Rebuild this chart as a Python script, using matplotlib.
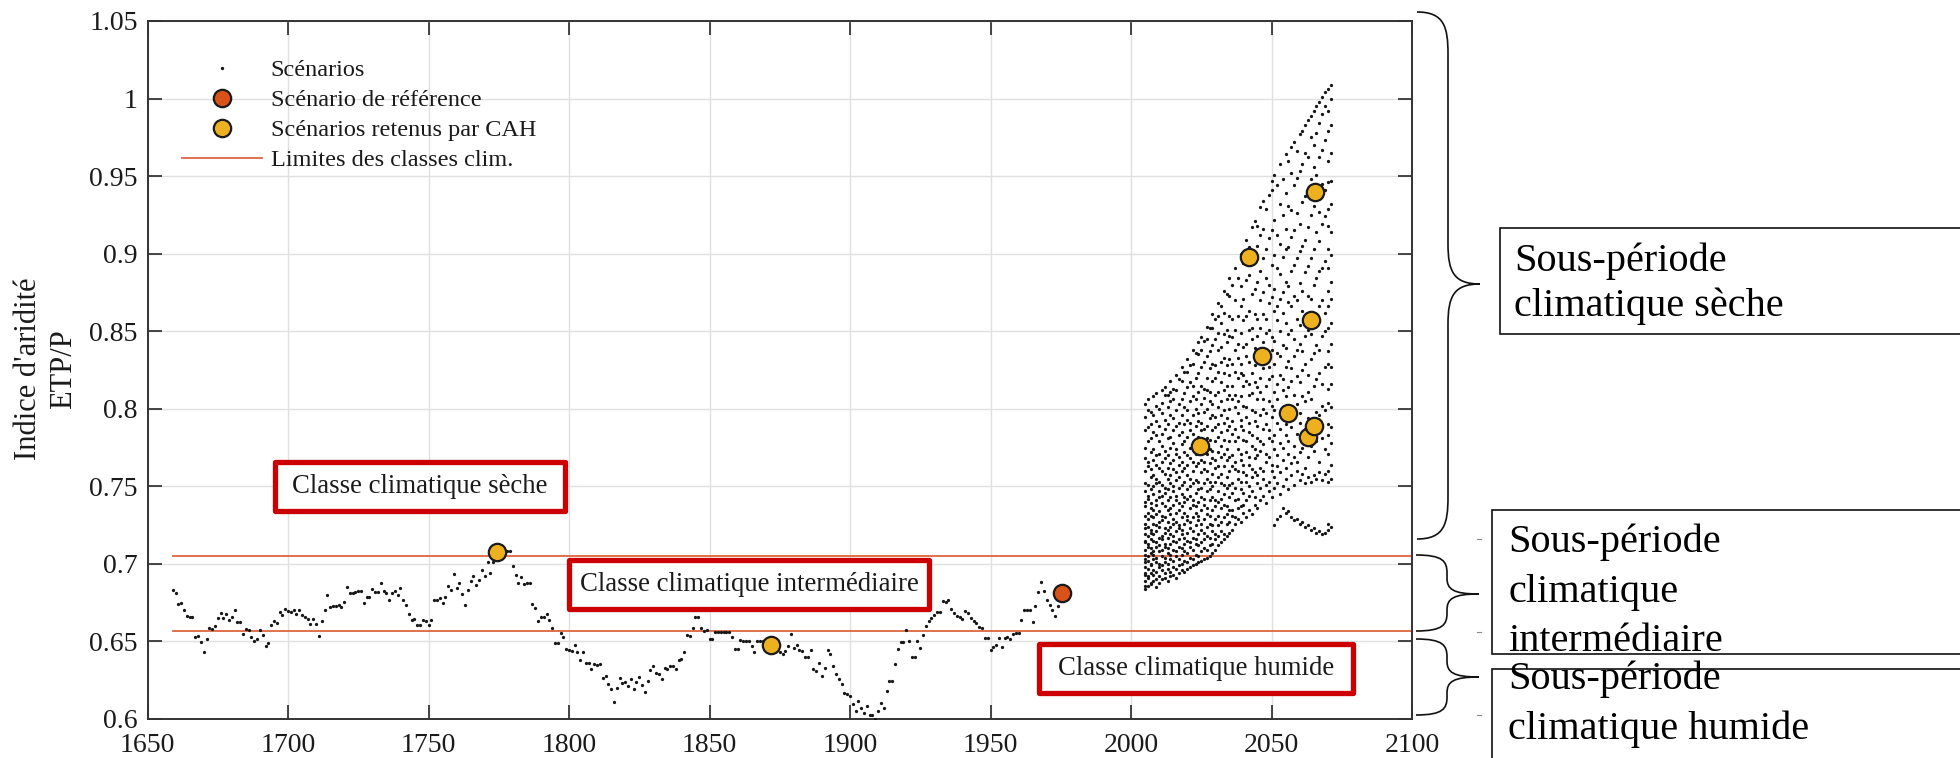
import matplotlib
matplotlib.use("Agg")
import numpy as np
import matplotlib.pyplot as plt
from matplotlib.lines import Line2D
from matplotlib.patches import Rectangle, PathPatch
from matplotlib.path import Path

plt.rcParams['font.family'] = ['Liberation Serif', 'DejaVu Serif']

# ---------------- data ----------------
HIST_START = 1659
HIST_VALUES = [
    0.683,
    0.681, 0.674, 0.6745, 0.6705, 0.6666, 0.666, 0.666, 0.653, 0.6537, 0.6494,
    0.6433, 0.6515, 0.6588, 0.658, 0.6597, 0.665, 0.6683, 0.6649, 0.668, 0.6638,
    0.6655, 0.6703, 0.6623, 0.6623, 0.6547, 0.658, 0.6575, 0.653, 0.6504, 0.6515,
    0.6575, 0.654, 0.647, 0.649, 0.6605, 0.6634, 0.662, 0.6687, 0.667, 0.6709,
    0.6694, 0.669, 0.670, 0.668, 0.670, 0.667, 0.666, 0.6644, 0.661, 0.6644,
    0.661, 0.6537, 0.6634, 0.670, 0.680, 0.672, 0.6727, 0.673, 0.6737, 0.672,
    0.6756, 0.685, 0.6813, 0.681, 0.6817, 0.6823, 0.6828, 0.6748, 0.6784, 0.6784,
    0.6838, 0.682, 0.682, 0.688, 0.6823, 0.681, 0.677, 0.681, 0.6823, 0.680,
    0.6845, 0.677, 0.6735, 0.668, 0.664, 0.6644, 0.6608, 0.6608, 0.6638, 0.663,
    0.6608, 0.6638, 0.677, 0.677, 0.678, 0.6748, 0.6785, 0.686, 0.6834, 0.6935,
    0.6843, 0.6877, 0.6806, 0.6735, 0.6834, 0.6888, 0.6925, 0.6866, 0.6899, 0.6961,
    0.6925, 0.7011, 0.6942, 0.7011, 0.7045, 0.7075, 0.708, 0.7085, 0.708, 0.708,
    0.6985, 0.693, 0.6877, 0.6914, 0.687, 0.6875, 0.688, 0.674, 0.6713, 0.6634,
    0.666, 0.666, 0.668, 0.6638, 0.6584, 0.649, 0.649, 0.6554, 0.6526, 0.645,
    0.6446, 0.644, 0.648, 0.6433, 0.638, 0.643, 0.6364, 0.6364, 0.632, 0.6353,
    0.6347, 0.6353, 0.6263, 0.6274, 0.6228, 0.6192, 0.611, 0.620, 0.6263, 0.6235,
    0.624, 0.6213, 0.6256, 0.6192, 0.624, 0.6272, 0.622, 0.6175, 0.6246, 0.6313,
    0.6343, 0.6295, 0.6289, 0.6256, 0.6332, 0.632, 0.6343, 0.634, 0.632, 0.638,
    0.639, 0.643, 0.654, 0.6537, 0.6584, 0.666, 0.666, 0.6584, 0.657, 0.6575,
    0.6515, 0.6515, 0.6558, 0.6562, 0.6558, 0.6558, 0.6562, 0.6558, 0.6526, 0.645,
    0.645, 0.651, 0.6504, 0.650, 0.650, 0.6472, 0.6433, 0.6504, 0.650, 0.6504,
    0.649, 0.648, 0.648, 0.647, 0.6455, 0.6433, 0.642, 0.644, 0.6468, 0.6547,
    0.6455, 0.6476, 0.6444, 0.644, 0.6397, 0.6397, 0.6444, 0.632, 0.631, 0.6364,
    0.6278, 0.6328, 0.6444, 0.642, 0.6343, 0.6289, 0.626, 0.6224, 0.6166, 0.616,
    0.6149, 0.6095, 0.6052, 0.6116, 0.6073, 0.6041, 0.6084, 0.6024, 0.6024, 0.6002,
    0.6052, 0.6106, 0.6073, 0.6181, 0.6246, 0.6246, 0.6353, 0.645, 0.6494, 0.6498,
    0.6575, 0.6504, 0.6397, 0.6397, 0.6504, 0.646, 0.654, 0.6601, 0.663, 0.6649,
    0.667, 0.669, 0.669, 0.676, 0.6755, 0.6765, 0.6709, 0.6683, 0.6666, 0.6657,
    0.6644, 0.6694, 0.6683, 0.665, 0.663, 0.6618, 0.659, 0.6584, 0.6522, 0.6522,
    0.6446, 0.6461, 0.6478, 0.6522, 0.6461, 0.6522, 0.6528, 0.6515, 0.655, 0.6554,
    0.6554, 0.664, 0.670, 0.6705, 0.670, 0.6623, 0.6726, 0.6821, 0.6881, 0.6823,
    0.6765, 0.6735, 0.6705, 0.6666, 0.6726,
]

# future scenario cloud, values in thousandths, per year
FUTURE = {
    2005: [684, 686, 689, 693, 694, 698, 701, 703, 706, 709, 714, 715, 719, 723, 726, 731, 737, 740, 747, 752, 760, 768, 775, 786, 795, 803],
    2006: [686, 691, 692, 697, 702, 705, 711, 713, 718, 724, 729, 733, 742, 744, 751, 763, 766, 779, 788, 799, 806],
    2007: [687, 688, 694, 699, 700, 707, 710, 716, 720, 722, 731, 736, 739, 748, 756, 761, 772, 781, 790, 798],
    2008: [689, 693, 696, 703, 706, 708, 715, 719, 726, 730, 735, 745, 750, 757, 767, 774, 785, 796, 808],
    2009: [685, 690, 695, 701, 704, 711, 714, 721, 725, 732, 738, 741, 752, 755, 764, 770, 783, 792, 802, 810],
    2010: [688, 692, 698, 700, 708, 712, 717, 724, 727, 734, 743, 747, 753, 762, 771, 779, 789, 800],
    2011: [690, 696, 699, 705, 709, 716, 718, 728, 731, 739, 744, 751, 760, 766, 776, 784, 797, 804, 812],
    2012: [691, 694, 701, 704, 711, 713, 720, 723, 730, 737, 746, 749, 758, 768, 773, 787, 793, 809, 814],
    2013: [689, 697, 700, 707, 710, 717, 722, 727, 735, 741, 748, 755, 762, 770, 781, 790, 801, 809],
    2014: [692, 695, 703, 706, 713, 719, 724, 732, 736, 743, 752, 757, 765, 775, 782, 796, 805, 811, 818],
    2015: [693, 698, 702, 709, 715, 718, 726, 729, 738, 747, 750, 761, 767, 778, 786, 794, 806, 813],
    2016: [691, 697, 705, 708, 714, 721, 727, 733, 741, 744, 754, 759, 771, 774, 789, 799, 812, 822],
    2017: [694, 699, 703, 711, 716, 723, 725, 735, 739, 749, 756, 764, 769, 783, 791, 803, 819],
    2018: [696, 700, 706, 710, 719, 722, 730, 737, 745, 751, 760, 766, 777, 785, 796, 806, 818, 827],
    2019: [695, 702, 708, 713, 717, 726, 733, 740, 743, 753, 762, 772, 779, 790, 801, 810, 824],
    2020: [697, 701, 707, 715, 720, 728, 731, 742, 748, 757, 764, 770, 782, 793, 799, 814, 824, 832],
    2021: [698, 704, 711, 714, 723, 727, 736, 744, 750, 755, 768, 775, 786, 791, 805, 817, 828],
    2022: [699, 703, 709, 717, 721, 730, 738, 741, 752, 760, 766, 778, 784, 796, 808, 815, 829, 838],
    2023: [700, 706, 713, 716, 725, 733, 737, 746, 754, 763, 771, 777, 789, 800, 806, 820, 836],
    2024: [701, 705, 712, 719, 728, 731, 740, 748, 753, 765, 773, 782, 792, 797, 811, 823, 835, 843],
    2025: [702, 708, 714, 722, 726, 735, 743, 749, 759, 767, 774, 786, 791, 803, 815, 827, 838, 846],
    2026: [703, 710, 716, 720, 729, 738, 742, 752, 761, 766, 779, 787, 798, 807, 813, 830, 844],
    2027: [704, 709, 718, 724, 732, 736, 747, 755, 760, 771, 781, 789, 800, 812, 820, 834, 845, 853],
    2028: [705, 712, 717, 726, 731, 741, 748, 753, 765, 774, 780, 794, 805, 811, 826, 837, 852],
    2029: [707, 713, 721, 725, 735, 743, 750, 758, 768, 773, 786, 796, 803, 818, 829, 841, 852, 861],
    2030: [709, 716, 719, 729, 737, 741, 753, 762, 767, 779, 788, 795, 809, 820, 828, 845, 858],
    2031: [712, 718, 725, 731, 740, 747, 756, 763, 772, 782, 790, 801, 811, 824, 838, 849, 860, 868],
    2032: [714, 721, 727, 736, 742, 752, 758, 769, 776, 785, 796, 805, 817, 830, 840, 855, 866],
    2033: [716, 719, 730, 738, 745, 751, 763, 771, 780, 791, 799, 812, 823, 833, 848, 862, 876],
    2034: [718, 726, 732, 737, 749, 756, 767, 774, 786, 794, 806, 815, 828, 843, 851, 874],
    2035: [720, 727, 735, 743, 751, 760, 769, 779, 789, 800, 809, 822, 832, 847, 860, 873, 884],
    2036: [722, 731, 735, 746, 752, 763, 770, 784, 792, 806, 815, 829, 846, 858, 880],
    2037: [726, 730, 741, 749, 761, 766, 779, 787, 801, 809, 824, 838, 851, 870, 891],
    2038: [729, 736, 742, 755, 760, 774, 782, 797, 805, 820, 833, 842, 860, 884],
    2039: [727, 737, 748, 753, 767, 771, 789, 793, 808, 823, 829, 849, 866, 879, 900],
    2040: [733, 738, 746, 759, 764, 780, 786, 802, 815, 822, 840, 857, 871, 894],
    2041: [730, 741, 753, 757, 772, 779, 795, 801, 818, 834, 842, 860, 883, 909],
    2042: [735, 744, 750, 764, 769, 785, 791, 809, 816, 830, 851, 863, 886, 904],
    2043: [732, 747, 756, 761, 776, 783, 799, 810, 823, 845, 852, 874, 896, 917],
    2044: [738, 743, 759, 768, 774, 792, 798, 817, 828, 839, 861, 877, 899, 921],
    2045: [736, 752, 757, 770, 781, 789, 806, 814, 835, 847, 858, 882, 905, 918],
    2046: [741, 749, 762, 773, 779, 796, 811, 820, 838, 852, 870, 889, 912, 930],
    2047: [744, 755, 760, 777, 787, 800, 806, 826, 843, 861, 875, 897, 916, 934],
    2048: [739, 751, 766, 771, 790, 797, 815, 832, 849, 858, 884, 903, 929],
    2049: [747, 753, 769, 781, 786, 805, 819, 827, 851, 868, 880, 910, 938],
    2050: [743, 760, 764, 779, 795, 802, 821, 838, 846, 872, 893, 915, 941, 947],
    2051: [725, 749, 756, 774, 783, 799, 811, 829, 844, 863, 877, 899, 922, 951],
    2052: [729, 752, 763, 770, 791, 806, 816, 836, 857, 866, 891, 912, 944],
    2053: [731, 745, 759, 778, 787, 797, 822, 834, 850, 871, 887, 906, 932, 958],
    2054: [736, 750, 767, 775, 794, 812, 819, 841, 862, 875, 898, 925, 948],
    2055: [733, 755, 762, 783, 790, 808, 827, 839, 855, 882, 903, 916, 939, 964],
    2056: [734, 748, 771, 779, 801, 814, 831, 848, 869, 879, 904, 931, 960],
    2057: [730, 757, 765, 788, 796, 818, 826, 851, 866, 889, 911, 928, 952, 969],
    2058: [728, 751, 769, 776, 799, 809, 834, 845, 873, 893, 915, 944, 972],
    2059: [729, 760, 766, 784, 803, 821, 838, 858, 870, 897, 926, 949, 966],
    2060: [726, 754, 772, 791, 797, 817, 842, 854, 881, 902, 919, 953, 977],
    2061: [727, 758, 775, 783, 808, 825, 837, 863, 876, 905, 933, 958, 979],
    2062: [724, 752, 762, 787, 805, 829, 847, 859, 888, 909, 937, 965, 983],
    2063: [725, 756, 769, 794, 811, 822, 851, 873, 892, 917, 940, 962, 986],
    2064: [722, 753, 776, 792, 806, 832, 848, 871, 897, 925, 948, 975, 989],
    2065: [723, 757, 773, 789, 815, 836, 859, 880, 903, 931, 956, 970, 992],
    2066: [720, 755, 779, 798, 819, 841, 855, 884, 914, 935, 951, 978, 995],
    2067: [721, 759, 766, 796, 823, 838, 866, 889, 908, 927, 962, 984, 998],
    2068: [719, 754, 781, 802, 816, 847, 870, 891, 919, 945, 967, 990, 1001],
    2069: [720, 758, 774, 799, 827, 850, 862, 895, 924, 941, 973, 995, 1004],
    2070: [722, 726, 753, 760, 771, 783, 790, 804, 813, 829, 837, 852, 866, 876, 891, 903, 918, 929, 946, 960, 979, 992, 1006],
    2071: [724, 755, 764, 778, 788, 801, 816, 827, 842, 855, 871, 882, 899, 914, 932, 947, 965, 983, 1000, 1009],
}

REF_YEAR = [1975.5]
REF_VALUE = [0.681]
CAH_YEARS = [1774.5, 1872, 2024.5, 2042, 2046.5, 2056, 2063, 2065, 2064, 2065.5]
CAH_VALUES = [0.7075, 0.648, 0.776, 0.898, 0.834, 0.797, 0.782, 0.789, 0.857, 0.940]
CLASS_LIMITS = [0.657, 0.705]
LIMIT_SPAN = [1659, 2100]

X_TICKS = [1650, 1700, 1750, 1800, 1850, 1900, 1950, 2000, 2050, 2100]
Y_TICKS = [0.6, 0.65, 0.7, 0.75, 0.8, 0.85, 0.9, 0.95, 1.0, 1.05]
Y_TICKLABELS = ['0.6', '0.65', '0.7', '0.75', '0.8', '0.85', '0.9', '0.95', '1', '1.05']

LEGEND_LABELS = ['Scénarios', 'Scénario de référence', 'Scénarios retenus par CAH',
                 'Limites des classes clim.']
CLASS_LABELS = ['Classe climatique sèche', 'Classe climatique intermédiaire',
                'Classe climatique humide']
PERIOD_LABELS = [['Sous-période', 'climatique sèche'],
                 ['Sous-période', 'climatique', 'intermédiaire'],
                 ['Sous-période', 'climatique humide']]

# ---------------- figure ----------------
W, H = 1960, 758
fig = plt.figure(figsize=(W / 100, H / 100), dpi=100)


def fx(x):
    return x / W


def fy(y):
    return 1 - y / H


AX_L, AX_R, AX_T, AX_B = 147.5, 1412, 21, 719
ax = fig.add_axes([fx(AX_L), fy(AX_B), (AX_R - AX_L) / W, (AX_B - AX_T) / H])

DOT = '#161616'
LIM_C = '#dd6640'
REF_C = '#D95319'
CAH_C = '#EDB120'

hist_years = np.arange(HIST_START, HIST_START + len(HIST_VALUES))
ax.plot(hist_years, HIST_VALUES, ls='none', marker='o', ms=2.35, mew=0, color=DOT, zorder=3)

fut_x, fut_y = [], []
for yr, vals in FUTURE.items():
    for v in vals:
        fut_x.append(yr)
        fut_y.append(v / 1000.0)
ax.plot(fut_x, fut_y, ls='none', marker='o', ms=2.35, mew=0, color=DOT, zorder=3)

for lim in CLASS_LIMITS:
    ax.plot(LIMIT_SPAN, [lim, lim], color=LIM_C, lw=1.3, zorder=2.5)

ax.plot(REF_YEAR, REF_VALUE, ls='none', marker='o', ms=12.5, mfc=REF_C, mec='#1a1a1a',
        mew=1.6, zorder=5)
ax.plot(CAH_YEARS, CAH_VALUES, ls='none', marker='o', ms=12.5, mfc=CAH_C, mec='#1a1a1a',
        mew=1.6, zorder=5)

ax.set_xlim(1650, 2100)
ax.set_ylim(0.6, 1.05)
ax.set_xticks(X_TICKS)
ax.set_yticks(Y_TICKS)
ax.set_yticklabels(Y_TICKLABELS)
ax.tick_params(direction='in', length=10, width=1.2, top=True, right=True,
               labelsize=20, colors='#262626', labelcolor='#1a1a1a')
ax.tick_params(axis='y', pad=7)
ax.tick_params(axis='x', pad=10)
ax.grid(True, color='#e0e0e0', lw=1.0, zorder=0)
ax.set_axisbelow(True)
for sp in ax.spines.values():
    sp.set_color('#333333')
    sp.set_linewidth(1.4)

fig.text(fx(46), fy(369), "Indice d'aridité\nETP/P", rotation=90, ha='center', va='center',
         fontsize=22, linespacing=1.3, color='#1a1a1a')

# legend
handles = [
    Line2D([], [], ls='none', marker='o', ms=2.4, mew=0, color=DOT),
    Line2D([], [], ls='none', marker='o', ms=12.5, mfc=REF_C, mec='#1a1a1a', mew=1.6),
    Line2D([], [], ls='none', marker='o', ms=12.5, mfc=CAH_C, mec='#1a1a1a', mew=1.6),
    Line2D([], [], color=LIM_C, lw=1.3),
]
leg = ax.legend(handles, LEGEND_LABELS, loc='upper left', bbox_to_anchor=(fx(182), fy(59)),
                bbox_transform=fig.transFigure, frameon=False, fontsize=17.5,
                borderaxespad=0, borderpad=0, handletextpad=0.35, handlelength=3.3,
                labelspacing=0.33)
for t in leg.get_texts():
    t.set_color('#1a1a1a')

# red class boxes (data coords)
CLASS_BOXES = [(1695.4, 0.7340, 1798.6, 0.7656), (1800.0, 0.6710, 1928.1, 0.7022),
               (1967.3, 0.6170, 2079.0, 0.6485)]
for (x0, y0, x1, y1), lab in zip(CLASS_BOXES, CLASS_LABELS):
    ax.add_patch(Rectangle((x0, y0), x1 - x0, y1 - y0, fc='white', ec='#cc0000', lw=3.8,
                           joinstyle='round', zorder=6))
    ax.text((x0 + x1) / 2, (y0 + y1) / 2, lab, ha='center', va='center', fontsize=19.3,
            color='#1a1a1a', zorder=7)


# right-side braces
def brace(x0, ytop, ybot, xs, xt, yt, r1, r2):
    verts = [
        (x0, ytop), (xs - 4, ytop), (xs, ytop + r1 * 0.35), (xs, ytop + r1),
        (xs, yt - r2),
        (xs, yt - r2 * 0.3), (xs + 6, yt), (xt, yt),
        (xs + 6, yt), (xs, yt + r2 * 0.3), (xs, yt + r2),
        (xs, ybot - r1),
        (xs, ybot - r1 * 0.35), (xs - 4, ybot), (x0, ybot),
    ]
    codes = [Path.MOVETO, Path.CURVE4, Path.CURVE4, Path.CURVE4,
             Path.LINETO,
             Path.CURVE4, Path.CURVE4, Path.CURVE4,
             Path.CURVE4, Path.CURVE4, Path.CURVE4,
             Path.LINETO,
             Path.CURVE4, Path.CURVE4, Path.CURVE4]
    verts = [(fx(a), fy(b)) for a, b in verts]
    fig.add_artist(PathPatch(Path(verts, codes), fill=False, lw=1.2, ec='#111111',
                             transform=fig.transFigure))


brace(1417, 12, 539, 1448, 1480, 284, 42, 40)
brace(1416, 555, 631, 1447, 1479, 594, 18, 16)
brace(1416, 639, 715, 1447, 1479, 677, 18, 16)
for yy in (539, 631.5, 715):
    fig.add_artist(Line2D([fx(1477), fx(1481)], [fy(yy), fy(yy)], color='#888888', lw=0.8,
                          transform=fig.transFigure))

# right-side boxes
RBOXES = [(1500, 228, 334), (1492, 510, 654), (1492, 669, 765)]
for x0, y0, y1 in RBOXES:
    fig.add_artist(Rectangle((fx(x0), fy(y1)), fx(1980 - x0), (y1 - y0) / H, fc='white',
                             ec='#111111', lw=1.2, transform=fig.transFigure))

RTEXT = [(1514, [271, 316]), (1508, [552, 602, 651]), (1508, [689, 739])]
for (tx, bases), lines in zip(RTEXT, PERIOD_LABELS):
    for b, s in zip(bases, lines):
        fig.text(fx(tx), fy(b), s, ha='left', va='baseline', fontsize=29, color='black')

fig.savefig('out.png', dpi=100)
